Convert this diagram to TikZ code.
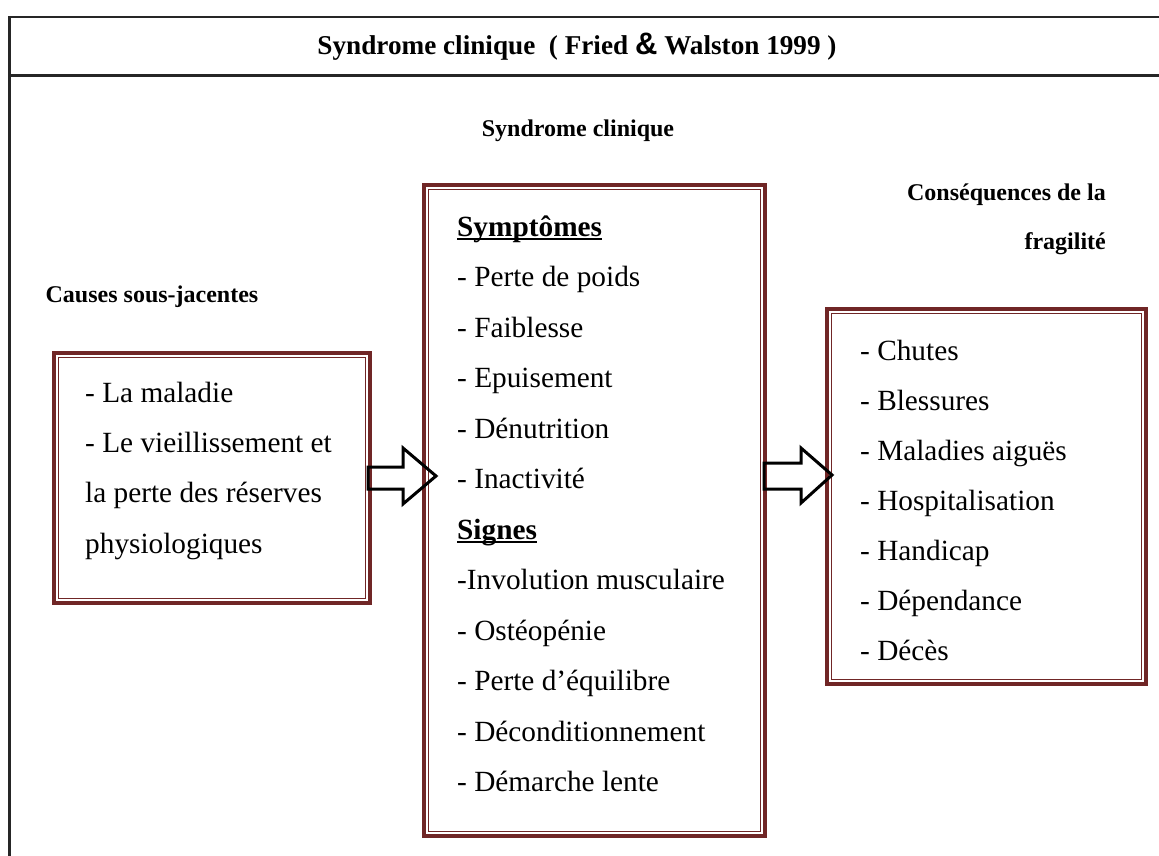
\documentclass[tikz,border=0pt]{standalone}
\usepackage{fontspec}
\setmainfont{Liberation Serif}
\newfontfamily\sansamp{Liberation Sans}
\usetikzlibrary{calc}
\definecolor{boxred}{RGB}{112,38,38}
\newcommand\ulbf[1]{\setbox0\hbox{\textbf{#1}}\rlap{\rule[-4pt]{\wd0}{2.2pt}}\box0}
\begin{document}
\begin{tikzpicture}[x=1pt,y=-1pt,
  body/.style={anchor=base west, inner sep=0pt, font=\fontsize{29.3}{35}\selectfont},
  head/.style={anchor=base, inner sep=0pt, font=\fontsize{24}{29}\selectfont\bfseries},
  frame/.style={line width=2.5pt, draw=black!85},
  boxouter/.style={draw=boxred, line width=4pt, rectangle, inner sep=0pt},
  boxinner/.style={draw=boxred, line width=1.2pt},
  blockarrow/.style={draw=black, line width=3pt, line join=miter}]
\useasboundingbox (0,0) rectangle (1159,856);

% outer frame
\draw[frame] (1159,17) -- (9.5,17) -- (9.5,856);
\draw[frame] (9.5,75.5) -- (1159,75.5);

% title and headings
\node[head, font=\fontsize{27.2}{31}\selectfont\bfseries] (title) at (577,55)
  {Syndrome clinique\ \ ( Fried {\sansamp\fontsize{31}{31}\selectfont\&} Walston 1999 )};
\node[head] (hsyn) at (578,136) {Syndrome clinique};
\node[head] (hcause) at (152,302) {Causes sous-jacentes};
\node[head, anchor=base east] (hcons1) at (1106,200) {Conséquences de la};
\node[head, anchor=base east] (hcons2) at (1106,249) {fragilité};

% boxes
\node[boxouter, minimum width=316pt, minimum height=250pt] (causes) at (212,478) {};
\draw[boxinner] ([shift={(6.5,6.5)}]causes.north west) rectangle ([shift={(-6.5,-6.5)}]causes.south east);
\node[boxouter, minimum width=341pt, minimum height=651pt] (syndrome) at (594.5,510.5) {};
\draw[boxinner] ([shift={(6.5,6.5)}]syndrome.north west) rectangle ([shift={(-6.5,-6.5)}]syndrome.south east);
\node[boxouter, minimum width=319pt, minimum height=375pt] (conseq) at (986.5,496.5) {};
\draw[boxinner] ([shift={(6.5,6.5)}]conseq.north west) rectangle ([shift={(-6.5,-6.5)}]conseq.south east);

% left box text
\node[body] (c1) at (85,402) {- La maladie};
\node[body] (c2) at (85,452.3) {- Le vieillissement et};
\node[body] (c3) at (85,502.6) {la perte des réserves};
\node[body] (c4) at (85,553) {physiologiques};

% middle box text
\node[body] (s0) at (457,236) {\ulbf{Symptômes}};
\node[body] (s1) at (457,286.5) {- Perte de poids};
\node[body] (s2) at (457,337) {- Faiblesse};
\node[body] (s3) at (457,387.5) {- Epuisement};
\node[body] (s4) at (457,438) {- Dénutrition};
\node[body] (s5) at (457,488.5) {- Inactivité};
\node[body] (s6) at (457,539) {\ulbf{Signes}};
\node[body] (s7) at (457,589.5) {-Involution musculaire};
\node[body] (s8) at (457,640) {- Ostéopénie};
\node[body] (s9) at (457,690.5) {- Perte d’équilibre};
\node[body] (s10) at (457,741) {- Déconditionnement};
\node[body] (s11) at (457,791.5) {- Démarche lente};

% right box text
\node[body] (r1) at (860,360) {- Chutes};
\node[body] (r2) at (860,410) {- Blessures};
\node[body] (r3) at (860,460) {- Maladies aiguës};
\node[body] (r4) at (860,510) {- Hospitalisation};
\node[body] (r5) at (860,560) {- Handicap};
\node[body] (r6) at (860,610) {- Dépendance};
\node[body] (r7) at (860,660) {- Décès};

% block arrows
\draw[blockarrow] ($(causes.east)+(-4,-11)$) -- ++(35,0) -- ++(0,-19) -- ++(33,28)
  -- ++(-33,28) -- ++(0,-15) -- ++(-35,0) -- cycle;
\draw[blockarrow] ($(syndrome.east|-causes.east)+(-3,-15)$) -- ++(37,0) -- ++(0,-15) -- ++(31,27)
  -- ++(-31,28) -- ++(0,-14) -- ++(-37,0) -- cycle;
\end{tikzpicture}
\end{document}
